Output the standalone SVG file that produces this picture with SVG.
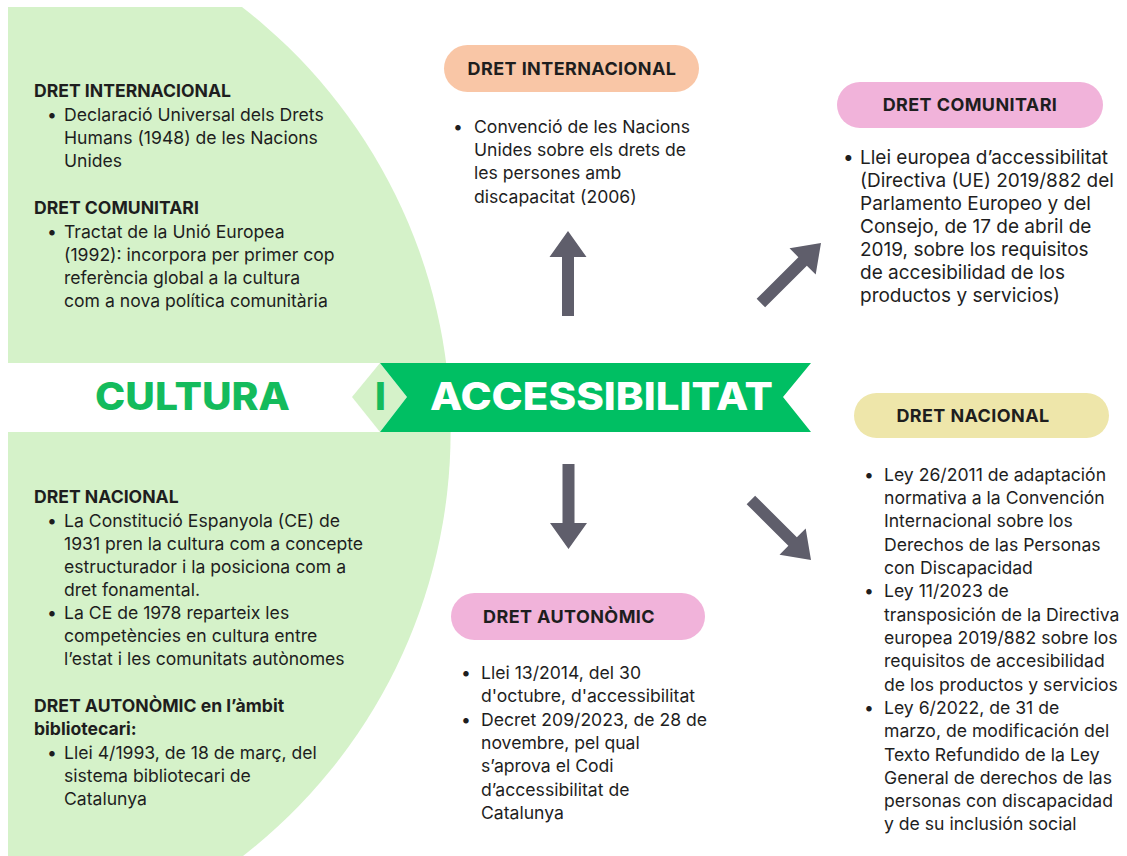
<svg xmlns="http://www.w3.org/2000/svg" width="1127" height="856" viewBox="0 0 1127 856">
<style>
.t{font-family:Inter,"Noto Sans","Liberation Sans",sans-serif;font-size:17.6px;fill:#1e1e1e}
.r{font-size:19px}
.h{font-family:Inter,"Noto Sans","Liberation Sans",sans-serif;font-size:17.6px;font-weight:700;fill:#1e1e1e}
.p{font-family:Inter,"Noto Sans","Liberation Sans",sans-serif;font-size:18px;font-weight:700;fill:#1e1e1e;text-anchor:middle;letter-spacing:0.4px}
.big{font-family:Inter,"Noto Sans","Liberation Sans",sans-serif;font-size:38px;font-weight:800}
.arrow{fill:#5f5e6b}
</style>
<defs>
<path id="arr" d="M0,0 L18.5,26 L6,26 L6,85 L-6,85 L-6,26 L-18.5,26 Z"/>
</defs>
<rect width="1127" height="856" fill="#ffffff"/>

<g id="panel">
<path d="M8,7 L242,7 A537,537 0 0 1 243,856 L8,856 Z" fill="#d5f2c9"/>
<rect x="0" y="363" width="470" height="69" fill="#ffffff"/>
</g>

<g id="title">
<polygon points="352,397 380,363 407,397 380,432" fill="#d5f2c9"/>
<polygon points="380,363 811,363 783,397 811,432 380,432 407,397" fill="#00bf63"/>
<text class="big" x="95" y="410" fill="#14bb5c" textLength="195" lengthAdjust="spacingAndGlyphs">CULTURA</text>
<text class="big" x="380.5" y="410" fill="#14bb5c" text-anchor="middle">I</text>
<text class="big" x="430" y="410" fill="#ffffff" textLength="343" lengthAdjust="spacingAndGlyphs">ACCESSIBILITAT</text>
</g>

<g id="left-top">
<text class="h" x="34" y="97">DRET INTERNACIONAL</text>
<text class="t" x="47" y="121">•</text>
<text class="t" x="64" y="121">Declaració Universal dels Drets</text>
<text class="t" x="64" y="144">Humans (1948) de les Nacions</text>
<text class="t" x="64" y="167">Unides</text>
<text class="h" x="34" y="214">DRET COMUNITARI</text>
<text class="t" x="47" y="238">•</text>
<text class="t" x="64" y="238">Tractat de la Unió Europea</text>
<text class="t" x="64" y="261">(1992): incorpora per primer cop</text>
<text class="t" x="64" y="284">referència global a la cultura</text>
<text class="t" x="64" y="307">com a nova política comunitària</text>
</g>

<g id="left-bottom">
<text class="h" x="34" y="503">DRET NACIONAL</text>
<text class="t" x="47" y="527">•</text>
<text class="t" x="64" y="527">La Constitució Espanyola (CE) de</text>
<text class="t" x="64" y="550">1931 pren la cultura com a concepte</text>
<text class="t" x="64" y="573">estructurador i la posiciona com a</text>
<text class="t" x="64" y="596">dret fonamental.</text>
<text class="t" x="47" y="619">•</text>
<text class="t" x="64" y="619">La CE de 1978 reparteix les</text>
<text class="t" x="64" y="642">competències en cultura entre</text>
<text class="t" x="64" y="665">l’estat i les comunitats autònomes</text>
<text class="h" x="34" y="712">DRET AUTONÒMIC en l’àmbit</text>
<text class="h" x="34" y="735">bibliotecari:</text>
<text class="t" x="47" y="759">•</text>
<text class="t" x="64" y="759">Llei 4/1993, de 18 de març, del</text>
<text class="t" x="64" y="782">sistema bibliotecari de</text>
<text class="t" x="64" y="805">Catalunya</text>
</g>

<g id="dret-internacional">
<rect x="444" y="45" width="255" height="47" rx="23.5" fill="#f9c6a6"/>
<text class="p" x="572" y="75">DRET INTERNACIONAL</text>
<text class="t" x="453" y="133">•</text>
<text class="t" x="474" y="133">Convenció de les Nacions</text>
<text class="t" x="474" y="156">Unides sobre els drets de</text>
<text class="t" x="474" y="179">les persones amb</text>
<text class="t" x="474" y="203">discapacitat (2006)</text>
</g>

<g id="dret-comunitari">
<rect x="837" y="82" width="266" height="46" rx="23" fill="#f1b3da"/>
<text class="p" x="970" y="111">DRET COMUNITARI</text>
<text class="t r" x="843" y="164">•</text>
<text class="t r" x="860" y="164">Llei europea d’accessibilitat</text>
<text class="t r" x="860" y="187">(Directiva (UE) 2019/882 del</text>
<text class="t r" x="860" y="210">Parlamento Europeo y del</text>
<text class="t r" x="860" y="233">Consejo, de 17 de abril de</text>
<text class="t r" x="860" y="256">2019, sobre los requisitos</text>
<text class="t r" x="860" y="279">de accesibilidad de los</text>
<text class="t r" x="860" y="302">productos y servicios)</text>
</g>

<g id="dret-nacional">
<rect x="854" y="393" width="255" height="45" rx="22.5" fill="#eee6aa"/>
<text class="p" x="973" y="422">DRET NACIONAL</text>
<text class="t" x="864" y="481">•</text>
<text class="t" x="884" y="481">Ley 26/2011 de adaptación</text>
<text class="t" x="884" y="504">normativa a la Convención</text>
<text class="t" x="884" y="527">Internacional sobre los</text>
<text class="t" x="884" y="551">Derechos de las Personas</text>
<text class="t" x="884" y="574">con Discapacidad</text>
<text class="t" x="864" y="597">•</text>
<text class="t" x="884" y="597">Ley 11/2023 de</text>
<text class="t" x="884" y="621">transposición de la Directiva</text>
<text class="t" x="884" y="644">europea 2019/882 sobre los</text>
<text class="t" x="884" y="667">requisitos de accesibilidad</text>
<text class="t" x="884" y="691">de los productos y servicios</text>
<text class="t" x="864" y="714">•</text>
<text class="t" x="884" y="714">Ley 6/2022, de 31 de</text>
<text class="t" x="884" y="737">marzo, de modificación del</text>
<text class="t" x="884" y="761">Texto Refundido de la Ley</text>
<text class="t" x="884" y="784">General de derechos de las</text>
<text class="t" x="884" y="807">personas con discapacidad</text>
<text class="t" x="884" y="830">y de su inclusión social</text>
</g>

<g id="dret-autonomic">
<rect x="451" y="593" width="254" height="47" rx="23.5" fill="#f1b3da"/>
<text class="p" x="569" y="623">DRET AUTONÒMIC</text>
<text class="t" x="461" y="679">•</text>
<text class="t" x="481" y="679">Llei 13/2014, del 30</text>
<text class="t" x="481" y="702">d'octubre, d'accessibilitat</text>
<text class="t" x="461" y="726">•</text>
<text class="t" x="481" y="726">Decret 209/2023, de 28 de</text>
<text class="t" x="481" y="749">novembre, pel qual</text>
<text class="t" x="481" y="772">s’aprova el Codi</text>
<text class="t" x="481" y="796">d’accessibilitat de</text>
<text class="t" x="481" y="819">Catalunya</text>
</g>

<g id="connectors" class="arrow">
<use href="#arr" transform="translate(568,231)"/>
<use href="#arr" transform="translate(568.5,549) rotate(180)"/>
<use href="#arr" transform="translate(821,243) rotate(45)"/>
<use href="#arr" transform="translate(811,560) rotate(135)"/>
</g>
</svg>
